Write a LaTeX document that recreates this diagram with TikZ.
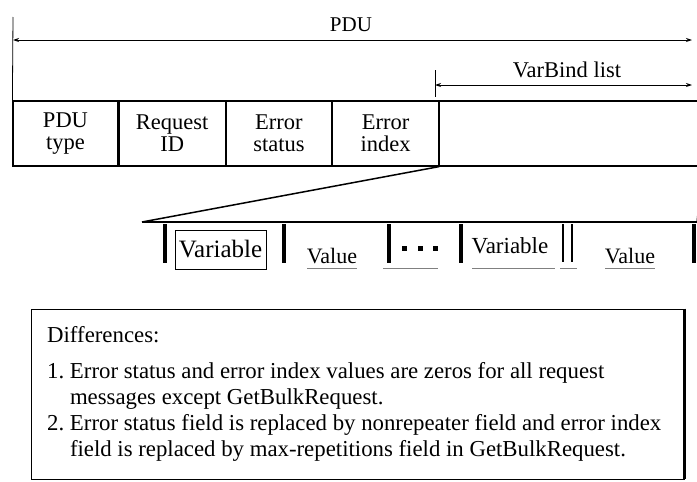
\documentclass[tikz,border=0pt]{standalone}
\usepackage{fontspec}
\setmainfont{Liberation Serif}
\usetikzlibrary{positioning, arrows.meta}

\tikzset{
  cell/.style={draw, line width=1.2pt, minimum height=65pt, inner sep=0pt,
    align=center, font=\fontsize{22.5}{22}\selectfont},
  lbl/.style={inner sep=0pt, font=\fontsize{22.5}{24}\selectfont},
  bar/.style={line width=4.5pt},
  thinbar/.style={line width=1.3pt},
  scan/.style={gray, line width=0.8pt}
}

\begin{document}
\begin{tikzpicture}[x=1pt, y=-1pt, >={Stealth[length=6pt,width=4pt]}]
    \useasboundingbox (0,0) rectangle (697,482);

    % --- PDU FIELDS ---
    \node[cell, minimum width=105pt] (pdutype) at (65.5,133.5) {PDU\\type};
    \node[cell, minimum width=106pt, right=0pt of pdutype] (reqid) {Request\\ID};
    \node[cell, minimum width=105pt, right=0pt of reqid] (errstat) {Error\\status};
    \node[cell, minimum width=106pt, right=0pt of errstat] (erridx) {Error\\index};
    \node[cell, minimum width=262pt, right=0pt of erridx] (varbind) {};

    % Whole PDU length
    \coordinate (pduL) at (13,40);
    \coordinate (pduR) at (692,40);
    \draw[line width=0.8pt] (13,17) -- (pdutype.north west);
    \draw[<->, line width=0.9pt] (pduL) -- (pduR);
    \node[lbl, font=\fontsize{21}{24}\selectfont] (pdulbl) at (351,25) {PDU};

    % VarBind list length
    \coordinate (vbL) at (435,85);
    \coordinate (vbR) at (692,85);
    \draw[line width=0.8pt] (435,70) -- (435,97);
    \draw[<->, line width=0.9pt] (vbL) -- (vbR);
    \node[lbl] (vblbl) at (567,70) {VarBind list};

    % --- VARBIND LIST EXPANDED ---
    \coordinate (zl) at (142,222);
    \coordinate (zr) at (697,222);
    \draw[line width=1.5pt] (erridx.south east) -- (zl);
    \draw[line width=2pt] (zl) -- (zr);
    \draw[line width=1.2pt] (varbind.south east) -- (zr);

    % Separators between fields
    \foreach \x in {165,284,389,461}
        \draw[bar] (\x,224) -- (\x,263);
    \foreach \x in {563,572}
        \draw[thinbar] (\x,224) -- (\x,262);
    \draw[bar] (694,224) -- (694,263);

    \node[lbl, draw, line width=0.8pt, minimum width=91pt, minimum height=39pt,
          font=\fontsize{25}{26}\selectfont] (var1) at (220.5,249.5) {Variable};
    \node[lbl, font=\fontsize{22}{24}\selectfont] (val1) at (332,256) {Value};
    \foreach \x in {404,420,435}
        \fill (\x-2.5,246) rectangle ++(5,5);
    \node[lbl, font=\fontsize{23}{24}\selectfont] (var2) at (510,246) {Variable};
    \node[lbl, font=\fontsize{22}{24}\selectfont] (val2) at (630,256) {Value};

    % Underlines left by the cells
    \draw[scan] (307,268) -- (357,268);
    \draw[scan] (383,268) -- (438,268);
    \draw[scan] (472,268) -- (555,268);
    \draw[scan] (560,268) -- (577,268);
    \draw[scan] (605,268) -- (655,268);

    % --- DIFFERENCES BOX ---
    \node[draw, line width=0.8pt, minimum width=653pt, minimum height=170pt,
          inner sep=0pt] (notes) at (357.5,394) {};
    \draw[line width=3pt] (notes.north east) -- (notes.south east);
    \node[anchor=north west, align=left, inner sep=0pt,
          font=\fontsize{22.8}{26}\selectfont] (notestxt) at (47,326)
      {Differences:\\[10pt]
       1.\ Error status and error index values are zeros for all request\\
       \phantom{1.\ }messages except GetBulkRequest.\\
       2.\ Error status field is replaced by nonrepeater field and error index\\
       \phantom{2.\ }field is replaced by max-repetitions field in GetBulkRequest.};
\end{tikzpicture}
\end{document}
